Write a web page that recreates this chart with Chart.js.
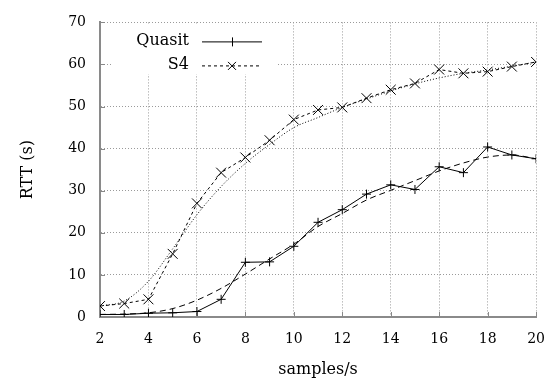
<!DOCTYPE html>
<html><head><meta charset="utf-8">
<script src="https://cdn.jsdelivr.net/npm/chart.js@4/dist/chart.umd.min.js"></script>
<style>html,body{margin:0;padding:0;background:#fff}</style>
</head><body>
<canvas id="c" width="559" height="381"></canvas>
<script>
const samples = [2,3,4,5,6,7,8,9,10,11,12,13,14,15,16,17,18,19,20];
const quasitRTT = [0.6,0.6,0.9,1.0,1.3,4.2,13.0,13.1,16.8,22.5,25.5,29.2,31.4,30.3,35.7,34.3,40.4,38.5,37.6];
const s4RTT = [2.6,3.2,4.2,15.0,27.0,34.3,37.9,42.0,46.9,49.2,49.8,52.0,54.0,55.5,58.8,57.9,58.3,59.5,60.6];
const quasitSmooth = [0.6,0.7,1.0,2.0,4.0,6.8,10.2,13.8,17.3,21.5,24.6,27.8,30.1,32.4,34.7,36.6,38.0,38.5,37.6];
const s4Smooth = [2.6,3.8,8.5,16.2,24.3,31.0,36.5,41.0,45.0,47.4,49.8,51.8,53.7,55.4,56.8,57.9,58.7,59.6,60.6];
const xTickValues = [2,4,6,8,10,12,14,16,18,20];
const yTickValues = [0,10,20,30,40,50,60,70];
const seriesNames = ['Quasit','S4'];
const xTitle = 'samples/s';
const yTitle = 'RTT (s)';

const FONT = 'DejaVu Serif';
const toPts = ys => samples.map((x,i)=>({x:x,y:ys[i]}));

const decor = {
  id:'decor',
  beforeDatasetsDraw(chart){
    const {ctx, chartArea:a, scales:{x,y}} = chart;
    ctx.save();
    ctx.strokeStyle = '#888'; ctx.lineWidth = 1;
    ctx.beginPath();
    xTickValues.forEach(v=>{const px=Math.round(x.getPixelForValue(v))+0.5; ctx.moveTo(px,a.bottom); ctx.lineTo(px,a.bottom-5);});
    yTickValues.forEach(v=>{const py=Math.round(y.getPixelForValue(v))+0.5; ctx.moveTo(a.left,py); ctx.lineTo(a.left+5,py);});
    ctx.stroke();
    ctx.fillStyle = '#fff';
    ctx.fillRect(a.left+12, a.top+2, 164, 50);
    ctx.fillStyle = '#000';
    ctx.font = '16px "' + FONT + '"';
    ctx.textAlign = 'right'; ctx.textBaseline = 'middle';
    const tx = a.left+89, y1 = a.top+18, y2 = a.top+42;
    ctx.fillText(seriesNames[0], tx, y1);
    ctx.fillText(seriesNames[1], tx, y2);
    const lx1 = a.left+102, lx2 = a.left+162, mx = a.left+132;
    ctx.strokeStyle = '#000'; ctx.lineWidth = 1;
    ctx.beginPath(); ctx.moveTo(lx1, y1+1.5); ctx.lineTo(lx2, y1+1.5); ctx.stroke();
    ctx.beginPath(); ctx.moveTo(mx+0.5, y1-3); ctx.lineTo(mx+0.5, y1+6); ctx.stroke();
    ctx.setLineDash([3,3]);
    ctx.beginPath(); ctx.moveTo(lx1, y2+1.5); ctx.lineTo(lx2, y2+1.5); ctx.stroke();
    ctx.setLineDash([]);
    ctx.beginPath(); ctx.moveTo(mx-4, y2-2.5); ctx.lineTo(mx+4, y2+5.5); ctx.moveTo(mx+4, y2-2.5); ctx.lineTo(mx-4, y2+5.5); ctx.stroke();
    ctx.restore();
  }
};

new Chart(document.getElementById('c'), {
  type:'scatter',
  data:{datasets:[
    {label:'Quasit smooth', data:toPts(quasitSmooth), showLine:true, borderColor:'#000', borderWidth:1, borderDash:[6,4], pointRadius:0, cubicInterpolationMode:'monotone', fill:false},
    {label:'S4 smooth', data:toPts(s4Smooth), showLine:true, borderColor:'#000', borderWidth:1, borderDash:[1,2], pointRadius:0, cubicInterpolationMode:'monotone', fill:false},
    {label:seriesNames[0], data:toPts(quasitRTT), showLine:true, borderColor:'#000', borderWidth:1, pointStyle:'cross', pointRadius:4.5, pointBorderColor:'#000', pointBorderWidth:1, pointBackgroundColor:'#000', tension:0, fill:false},
    {label:seriesNames[1], data:toPts(s4RTT), showLine:true, borderColor:'#000', borderWidth:1, borderDash:[3,3], pointStyle:'crossRot', pointRadius:7, pointBorderColor:'#000', pointBorderWidth:1, pointBackgroundColor:'#000', tension:0, fill:false}
  ]},
  options:{
    responsive:false, animation:false, devicePixelRatio:1,
    layout:{padding:{top:20,right:18,left:0,bottom:0}},
    plugins:{legend:{display:false}, tooltip:{enabled:false}},
    scales:{
      x:{type:'linear', min:2, max:20,
        afterFit(s){s.height=64;},
        afterBuildTicks(s){s.ticks = xTickValues.map(v=>({value:v}));},
        ticks:{color:'#000', font:{family:FONT,size:14}, padding:14, maxRotation:0, autoSkip:false},
        grid:{color:'#9a9a9a', lineWidth:1, drawTicks:false},
        border:{display:true, color:'#8a8a8a', width:2, dash:[1,2]},
        title:{display:true, text:xTitle, color:'#000', font:{family:FONT,size:16}, padding:{top:0,bottom:2}}
      },
      y:{min:0, max:70,
        afterFit(s){s.width=100;},
        afterBuildTicks(s){s.ticks = yTickValues.map(v=>({value:v}));},
        ticks:{color:'#000', font:{family:FONT,size:14}, padding:14},
        grid:{color:'#9a9a9a', lineWidth:1, drawTicks:false},
        border:{display:true, color:'#8a8a8a', width:2, dash:[1,2]},
        title:{display:true, text:yTitle, color:'#000', font:{family:FONT,size:16}, padding:{top:18,bottom:0}}
      }
    }
  },
  plugins:[decor]
});
</script>
</body></html>
